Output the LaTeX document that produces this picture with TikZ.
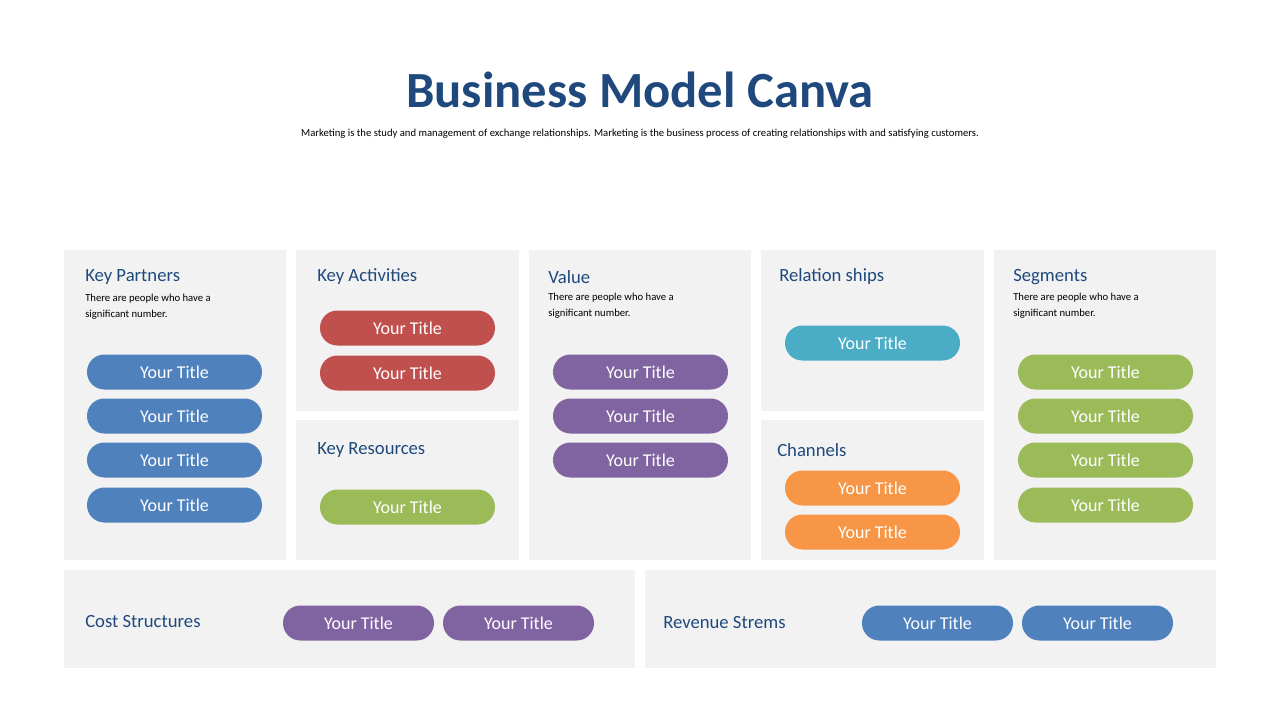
\documentclass[tikz,border=0pt]{standalone}
\usepackage{fontspec}
\setmainfont{Carlito}
\definecolor{tblue}{HTML}{1F497D}
\definecolor{pblue}{HTML}{4F81BD}
\definecolor{pred}{HTML}{C0504D}
\definecolor{pgreen}{HTML}{9BBB59}
\definecolor{ppurple}{HTML}{8064A2}
\definecolor{pteal}{HTML}{4BACC6}
\definecolor{porange}{HTML}{F79646}
\definecolor{boxbg}{HTML}{F2F2F2}
\begin{document}
\begin{tikzpicture}[x=0.75pt,y=-0.75pt,
  box/.style={fill=boxbg,draw=none},
  pill/.style={fill=#1,rounded corners=13pt,minimum width=131.25pt,minimum height=26.25pt,inner sep=0pt,text=white,font=\fontsize{13.5}{15}\selectfont},
  spill/.style={pill=#1,minimum width=113.25pt},
  head/.style={anchor=west,text=tblue,font=\fontsize{14}{16}\selectfont,inner sep=0pt},
  desc/.style={anchor=north west,align=left,font=\fontsize{8}{12}\selectfont,inner sep=0pt}]
\useasboundingbox (0,0) rectangle (1280,720);
\node[text=tblue,font=\bfseries\fontsize{38}{44}\selectfont] (title) at (640,90) {Business Model Canva};
\node[font=\fontsize{8}{10}\selectfont] (sub) at (640,134) {Marketing is the study and management of exchange relationships. Marketing is the business process of creating relationships with and satisfying customers.};
% boxes
\fill[box] (64,250) rectangle (286,560);
\fill[box] (296,250) rectangle (519,411);
\fill[box] (296,420) rectangle (519,560);
\fill[box] (529,250) rectangle (751,560);
\fill[box] (761,250) rectangle (984,411);
\fill[box] (761,420) rectangle (984,560);
\fill[box] (994,250) rectangle (1216,560);
\fill[box] (64,570) rectangle (635,668);
\fill[box] (645,570) rectangle (1216,668);
% headers
\node[head] (h1) at (85,277) {Key Partners};
\node[desc] (d1) at (85,294) {There are people who have a\\significant number.};
\node[head] (h2) at (317,277) {Key Activities};
\node[head] (h3) at (317,450) {Key Resources};
\node[head] (h4) at (548,277) {Value};
\node[desc] (d4) at (548,293) {There are people who have a\\significant number.};
\node[head] (h5) at (779,277) {Relation ships};
\node[head] (h6) at (777,450) {Channels};
\node[head] (h7) at (1013,277) {Segments};
\node[desc] (d7) at (1013,293) {There are people who have a\\significant number.};
\node[head] (h8) at (85,622) {Cost Structures};
\node[head] (h9) at (663,623) {Revenue Strems};
% pills
\node[pill=pblue] (kp1) at (174.5,372) {Your Title};
\node[pill=pblue] (kp2) at (174.5,416) {Your Title};
\node[pill=pblue] (kp3) at (174.5,460) {Your Title};
\node[pill=pblue] (kp4) at (174.5,505) {Your Title};
\node[pill=pred] (ka1) at (407.5,328) {Your Title};
\node[pill=pred] (ka2) at (407.5,373) {Your Title};
\node[pill=pgreen] (kr1) at (407.5,507) {Your Title};
\node[pill=ppurple] (v1) at (640.5,372) {Your Title};
\node[pill=ppurple] (v2) at (640.5,416) {Your Title};
\node[pill=ppurple] (v3) at (640.5,460) {Your Title};
\node[pill=pteal] (r1) at (872.5,343) {Your Title};
\node[pill=porange] (c1) at (872.5,488) {Your Title};
\node[pill=porange] (c2) at (872.5,532) {Your Title};
\node[pill=pgreen] (s1) at (1105.5,372) {Your Title};
\node[pill=pgreen] (s2) at (1105.5,416) {Your Title};
\node[pill=pgreen] (s3) at (1105.5,460) {Your Title};
\node[pill=pgreen] (s4) at (1105.5,505) {Your Title};
\node[spill=ppurple] (cs1) at (358.5,623) {Your Title};
\node[spill=ppurple] (cs2) at (518.5,623) {Your Title};
\node[spill=pblue] (rs1) at (937.5,623) {Your Title};
\node[spill=pblue] (rs2) at (1097.5,623) {Your Title};
\end{tikzpicture}
\end{document}
